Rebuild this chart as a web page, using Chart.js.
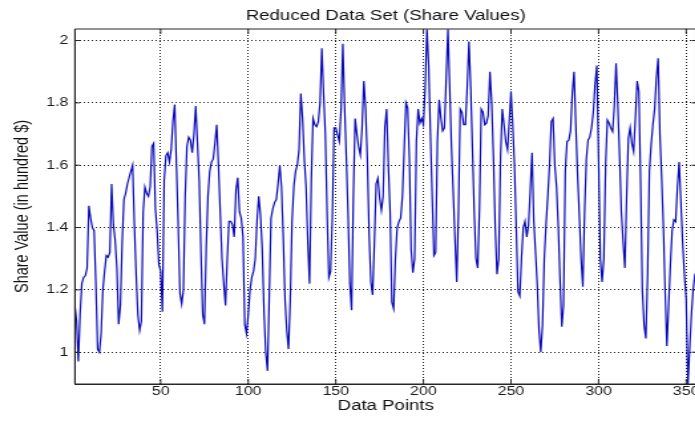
<!DOCTYPE html>
<html lang="en">
<head>
  <meta charset="UTF-8">
  <title>Reduced Data Set</title>
  <script src="https://cdn.jsdelivr.net/npm/chart.js"></script>
  <style>
    html, body {
      margin: 0;
      padding: 0;
      background: #fff;
      overflow: hidden;
      width: 695px;
      height: 423px;
    }
    /* the reference picture is stretched sideways, so the canvas is too */
    .stretch {
      width: 530px;
      height: 423px;
      transform: scaleX(1.329);
      transform-origin: 0 0;
    }
  </style>
</head>
<body>
  <div class="stretch">
    <canvas id="shareChart" width="530" height="423" style="width:530px;height:423px"></canvas>
  </div>

  <script>
    const xTicks = [50, 100, 150, 200, 250, 300, 350];
    const yTicks = [1, 1.2, 1.4, 1.6, 1.8, 2];

    const shareValues = [
      1.15, 1.10, 0.97, 1.12, 1.22, 1.24, 1.245, 1.27, 1.47, 1.43,
      1.40, 1.39, 1.22, 1.01, 1.00, 1.06, 1.20, 1.26, 1.31, 1.305,
      1.32, 1.54, 1.41, 1.36, 1.27, 1.09, 1.15, 1.35, 1.49, 1.51,
      1.54, 1.56, 1.58, 1.60, 1.41, 1.25, 1.12, 1.07, 1.10, 1.45,
      1.53, 1.51, 1.50, 1.53, 1.66, 1.67, 1.46, 1.39, 1.28, 1.26,
      1.13, 1.55, 1.63, 1.64, 1.61, 1.65, 1.74, 1.795, 1.60, 1.41,
      1.19, 1.155, 1.20, 1.50, 1.66, 1.69, 1.68, 1.64, 1.70, 1.79,
      1.67, 1.55, 1.32, 1.12, 1.09, 1.33, 1.50, 1.58, 1.61, 1.62,
      1.67, 1.73, 1.60, 1.45, 1.30, 1.22, 1.15, 1.30, 1.42, 1.42,
      1.41, 1.37, 1.52, 1.56, 1.45, 1.43, 1.37, 1.09, 1.06, 1.12,
      1.20, 1.24, 1.26, 1.30, 1.42, 1.50, 1.44, 1.33, 1.13, 1.00,
      0.94, 1.18, 1.43, 1.46, 1.48, 1.49, 1.54, 1.60, 1.53, 1.37,
      1.17, 1.07, 1.01, 1.17, 1.42, 1.53, 1.58, 1.60, 1.65, 1.83,
      1.75, 1.62, 1.53, 1.355, 1.22, 1.55, 1.75, 1.73, 1.724, 1.74,
      1.80, 1.975, 1.83, 1.70, 1.45, 1.24, 1.26, 1.43, 1.72, 1.72,
      1.697, 1.676, 1.78, 1.99, 1.79, 1.622, 1.44, 1.22, 1.135, 1.50,
      1.75, 1.70, 1.66, 1.633, 1.72, 1.87, 1.783, 1.62, 1.38, 1.226,
      1.184, 1.35, 1.54, 1.558, 1.494, 1.455, 1.50, 1.72, 1.78, 1.60,
      1.45, 1.16, 1.14, 1.30, 1.398, 1.419, 1.43, 1.50, 1.65, 1.80,
      1.783, 1.62, 1.33, 1.255, 1.30, 1.676, 1.78, 1.735, 1.75, 1.73,
      1.85, 2.036, 1.92, 1.70, 1.50, 1.31, 1.32, 1.676, 1.81, 1.751,
      1.71, 1.72, 1.88, 2.036, 1.85, 1.66, 1.515, 1.365, 1.225, 1.45,
      1.78, 1.77, 1.73, 1.73, 1.85, 1.997, 1.85, 1.65, 1.45, 1.30,
      1.27, 1.46, 1.78, 1.77, 1.73, 1.735, 1.76, 1.90, 1.80, 1.622,
      1.40, 1.25, 1.30, 1.62, 1.78, 1.73, 1.676, 1.65, 1.74, 1.837,
      1.729, 1.60, 1.40, 1.194, 1.18, 1.301, 1.40, 1.42, 1.37, 1.408,
      1.52, 1.64, 1.42, 1.32, 1.216, 1.07, 1.00, 1.087, 1.30, 1.408,
      1.50, 1.60, 1.74, 1.75, 1.60, 1.53, 1.40, 1.23, 1.082, 1.15,
      1.58, 1.676, 1.68, 1.71, 1.83, 1.90, 1.729, 1.57, 1.44, 1.30,
      1.21, 1.45, 1.62, 1.681, 1.69, 1.72, 1.77, 1.86, 1.92, 1.62,
      1.30, 1.225, 1.30, 1.60, 1.745, 1.735, 1.719, 1.708, 1.79, 1.927,
      1.79, 1.63, 1.45, 1.355, 1.27, 1.494, 1.686, 1.72, 1.67, 1.644,
      1.75, 1.87, 1.837, 1.55, 1.20, 1.087, 1.044, 1.25, 1.58, 1.665,
      1.73, 1.78, 1.88, 1.943, 1.70, 1.56, 1.40, 1.194, 1.02, 1.15,
      1.28, 1.39, 1.425, 1.419, 1.53, 1.61, 1.48, 1.35, 1.248, 1.17,
      0.898, 1.01, 1.12, 1.20, 1.248, 1.26
    ];

    const points = shareValues.map((v, i) => ({ x: i + 1, y: v }));

    Chart.defaults.font.family = "'Liberation Sans', Arial, sans-serif";
    Chart.defaults.color = '#1a1a1a';

    // matlab style box round the axes, ticks pointing inwards
    const axesBox = {
      id: 'axesBox',
      afterDraw(chart) {
        const { ctx, chartArea: a, scales: { x, y } } = chart;
        ctx.save();
        ctx.strokeStyle = '#262626';
        ctx.lineWidth = 1;
        ctx.beginPath();
        ctx.rect(a.left, a.top, a.right - a.left, a.bottom - a.top);
        xTicks.forEach(v => {
          const px = x.getPixelForValue(v);
          ctx.moveTo(px, a.bottom);
          ctx.lineTo(px, a.bottom - 5);
          ctx.moveTo(px, a.top);
          ctx.lineTo(px, a.top + 5);
        });
        yTicks.forEach(v => {
          const py = y.getPixelForValue(v);
          ctx.moveTo(a.left, py);
          ctx.lineTo(a.left + 3.8, py);
          ctx.moveTo(a.right, py);
          ctx.lineTo(a.right - 3.8, py);
        });
        ctx.stroke();
        ctx.restore();
      }
    };

    const ctx = document.getElementById('shareChart').getContext('2d');
    const shareChart = new Chart(ctx, {
      type: 'line',
      data: {
        datasets: [{
          label: 'Share Value',
          data: points,
          borderColor: '#0a0ab8',
          borderWidth: 1.2,
          pointRadius: 0,
          tension: 0,
          fill: false
        }]
      },
      options: {
        responsive: false,
        devicePixelRatio: 1,
        animation: false,
        layout: {
          padding: { left: 0, right: 5.8, top: 0, bottom: 0 }
        },
        plugins: {
          legend: { display: false },
          tooltip: { enabled: false },
          title: {
            display: true,
            text: 'Reduced Data Set (Share Values)',
            fullSize: false,
            color: '#111',
            font: { size: 14, weight: 'normal' },
            padding: { top: 8, bottom: 4.2 }
          }
        },
        scales: {
          x: {
            type: 'linear',
            min: 1,
            max: 356,
            afterBuildTicks: scale => {
              scale.ticks = xTicks.map(v => ({ value: v }));
            },
            afterFit: scale => {
              scale.height = 39;
            },
            grid: {
              color: '#222',
              lineWidth: 1,
              drawTicks: false
            },
            border: {
              display: true,
              color: '#262626',
              width: 1,
              dash: [1, 2]
            },
            ticks: {
              font: { size: 12 },
              color: '#1a1a1a',
              padding: 0.5,
              maxRotation: 0,
              autoSkip: false,
              callback: v => String(v)
            },
            title: {
              display: true,
              text: 'Data Points',
              color: '#111',
              font: { size: 14 },
              padding: { top: 0, bottom: 8.6 }
            }
          },
          y: {
            min: 0.898,
            max: 2.037,
            afterBuildTicks: scale => {
              scale.ticks = yTicks.map(v => ({ value: v }));
            },
            afterFit: scale => {
              scale.width = 56.3;
            },
            grid: {
              color: '#222',
              lineWidth: 1,
              drawTicks: false
            },
            border: {
              display: true,
              color: '#262626',
              width: 1,
              dash: [1, 2]
            },
            ticks: {
              font: { size: 12 },
              color: '#1a1a1a',
              padding: 4.9,
              autoSkip: false,
              callback: v => String(Math.round(v * 10) / 10)
            },
            title: {
              display: true,
              text: 'Share Value (in hundred $)',
              color: '#111',
              font: { size: 14.5 },
              padding: { top: 8.6, bottom: 0 }
            }
          }
        }
      },
      plugins: [axesBox]
    });
  </script>
</body>
</html>
